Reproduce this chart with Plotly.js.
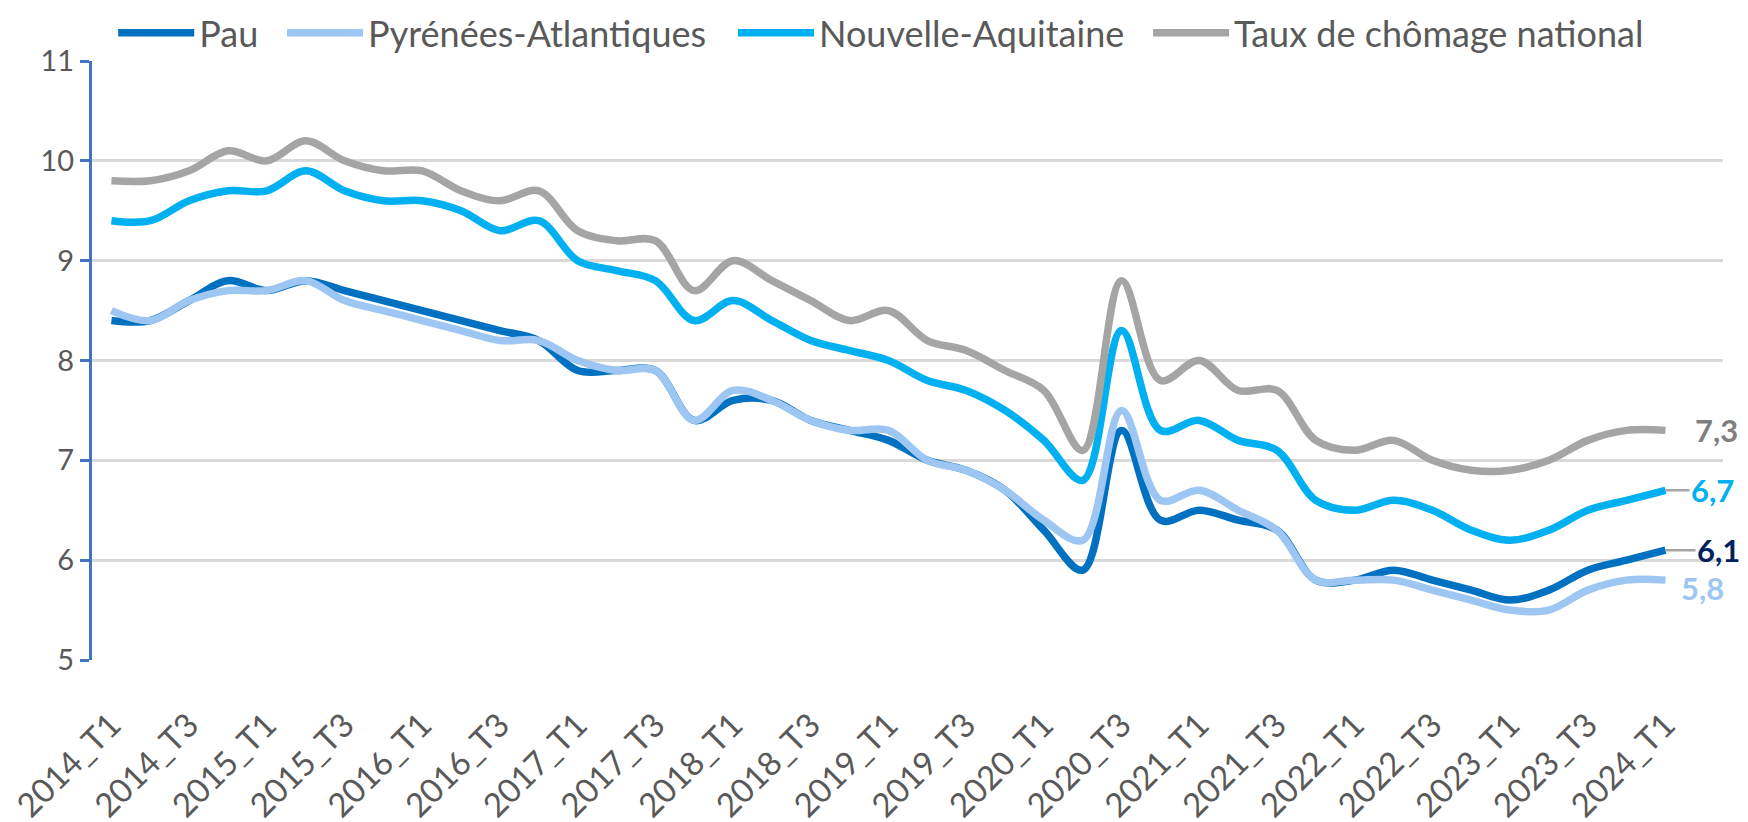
<!DOCTYPE html>
<html>
<head>
<meta charset="utf-8">
<script src="https://cdn.plot.ly/plotly-3.0.1.min.js"></script>
<style>html,body{margin:0;padding:0;background:#fff;}#chart{width:1748px;height:822px;}</style>
</head>
<body>
<div id="chart"></div>
<script>
const quarters = ["2014_T1","2014_T2","2014_T3","2014_T4","2015_T1","2015_T2","2015_T3","2015_T4",
  "2016_T1","2016_T2","2016_T3","2016_T4","2017_T1","2017_T2","2017_T3","2017_T4",
  "2018_T1","2018_T2","2018_T3","2018_T4","2019_T1","2019_T2","2019_T3","2019_T4",
  "2020_T1","2020_T2","2020_T3","2020_T4","2021_T1","2021_T2","2021_T3","2021_T4",
  "2022_T1","2022_T2","2022_T3","2022_T4","2023_T1","2023_T2","2023_T3","2023_T4","2024_T1"];
const tickLabels = ["2014_T1","2014_T3","2015_T1","2015_T3","2016_T1","2016_T3","2017_T1","2017_T3",
  "2018_T1","2018_T3","2019_T1","2019_T3","2020_T1","2020_T3","2021_T1","2021_T3",
  "2022_T1","2022_T3","2023_T1","2023_T3","2024_T1"];
const pau = [8.4,8.4,8.6,8.8,8.7,8.8,8.7,8.6,8.5,8.4,8.3,8.2,7.9,7.9,7.9,7.4,7.6,7.6,7.4,7.3,
  7.2,7.0,6.9,6.7,6.3,5.9,7.3,6.4,6.5,6.4,6.3,5.8,5.8,5.9,5.8,5.7,5.6,5.7,5.9,6.0,6.1];
const pyrenees = [8.5,8.4,8.6,8.7,8.7,8.8,8.6,8.5,8.4,8.3,8.2,8.2,8.0,7.9,7.9,7.4,7.7,7.6,7.4,7.3,
  7.3,7.0,6.9,6.7,6.4,6.2,7.5,6.6,6.7,6.5,6.3,5.8,5.8,5.8,5.7,5.6,5.5,5.5,5.7,5.8,5.8];
const nouvelleAquitaine = [9.4,9.4,9.6,9.7,9.7,9.9,9.7,9.6,9.6,9.5,9.3,9.4,9.0,8.9,8.8,8.4,8.6,8.4,8.2,8.1,
  8.0,7.8,7.7,7.5,7.2,6.8,8.3,7.3,7.4,7.2,7.1,6.6,6.5,6.6,6.5,6.3,6.2,6.3,6.5,6.6,6.7];
const national = [9.8,9.8,9.9,10.1,10.0,10.2,10.0,9.9,9.9,9.7,9.6,9.7,9.3,9.2,9.2,8.7,9.0,8.8,8.6,8.4,
  8.5,8.2,8.1,7.9,7.7,7.1,8.8,7.8,8.0,7.7,7.7,7.2,7.1,7.2,7.0,6.9,6.9,7.0,7.2,7.3,7.3];
const seriesNames = ["Pau","Pyrénées-Atlantiques","Nouvelle-Aquitaine","Taux de chômage national"];

const FONT = 'Lato, "Open Sans", sans-serif';
const colors = ["#0070C0","#9DC6F2","#00B0F0","#A5A5A5"];
const labelColors = ["#002060","#9DC6F2","#00B0F0","#7F7F7F"];
const allSeries = [pau, pyrenees, nouvelleAquitaine, national];
const legendIds = ["legend","legend2","legend3","legend4"];

const traces = allSeries.map((s, k) => ({
  type: "scatter", mode: "lines", x: quarters, y: s, name: seriesNames[k],
  line: {color: colors[k], width: 7.5, shape: "spline", smoothing: 1},
  legend: legendIds[k], hoverinfo: "x+y+name"
}));

const fmt = v => v.toFixed(1).replace(".", ",");
const last = quarters.length - 1;
const annotations = [
  {x: quarters[last], y: national[last], text: fmt(national[last]), showarrow: false,
   xanchor: "left", xshift: 27, font: {family: FONT, size: 31, color: labelColors[3], weight: 700}},
  {x: quarters[last], y: nouvelleAquitaine[last], text: fmt(nouvelleAquitaine[last]), showarrow: true,
   ax: 47, ay: 0, arrowhead: 0, arrowwidth: 2.5, arrowcolor: "#A6A6A6", standoff: 0,
   font: {family: FONT, size: 31, color: labelColors[2], weight: 700}},
  {x: quarters[last], y: pau[last], text: fmt(pau[last]), showarrow: true,
   ax: 53, ay: 0, arrowhead: 0, arrowwidth: 2.5, arrowcolor: "#A6A6A6", standoff: 0,
   font: {family: FONT, size: 31, color: labelColors[0], weight: 700}},
  {x: quarters[last], y: pyrenees[last], text: fmt(pyrenees[last]), showarrow: false,
   xanchor: "left", xshift: 13, yshift: -8, font: {family: FONT, size: 31, color: labelColors[1], weight: 700}}
];

const legendBase = {orientation: "h", yanchor: "middle", y: 1.047, xanchor: "left",
  font: {family: FONT, size: 36, color: "#595959"}, bgcolor: "rgba(0,0,0,0)", itemwidth: 76,
  itemclick: false, itemdoubleclick: false};
const legendX = [0.013, 0.1165, 0.393, 0.6475];

const layout = {
  width: 1748, height: 822,
  margin: {l: 92, r: 25, t: 61, b: 162, autoexpand: false},
  paper_bgcolor: "#fff", plot_bgcolor: "#fff",
  font: {family: FONT, color: "#595959"},
  xaxis: {
    type: "category", range: [-0.5, 41.48], tickmode: "array", tickvals: tickLabels, ticktext: tickLabels,
    tickangle: -45, tickfont: {family: FONT, size: 33, color: "#595959"}, ticks: "", showgrid: false,
    showline: false, zeroline: false, ticklabelstandoff: 38, automargin: false
  },
  yaxis: {
    range: [5, 11], dtick: 1, tick0: 5, showgrid: true, gridcolor: "#D9D9D9", gridwidth: 3,
    showline: true, linecolor: "#4472C4", linewidth: 3, ticks: "outside", ticklen: 9, tickwidth: 3,
    tickcolor: "#4472C4", tickfont: {family: FONT, size: 29, color: "#595959"}, zeroline: false,
    ticklabelstandoff: 0, automargin: false
  },
  yaxis2: {
    overlaying: "y", side: "left", range: [5, 11], dtick: 1, tick0: 5, showgrid: false, showline: false,
    ticks: "inside", ticklen: 9, tickwidth: 3, tickcolor: "#4472C4", showticklabels: false, zeroline: false
  },
  annotations: annotations,
  showlegend: true
};
legendIds.forEach((id, k) => { layout[id] = Object.assign({}, legendBase, {x: legendX[k]}); });

Plotly.newPlot("chart", traces, layout, {displayModeBar: false, responsive: false});
</script>
</body>
</html>
